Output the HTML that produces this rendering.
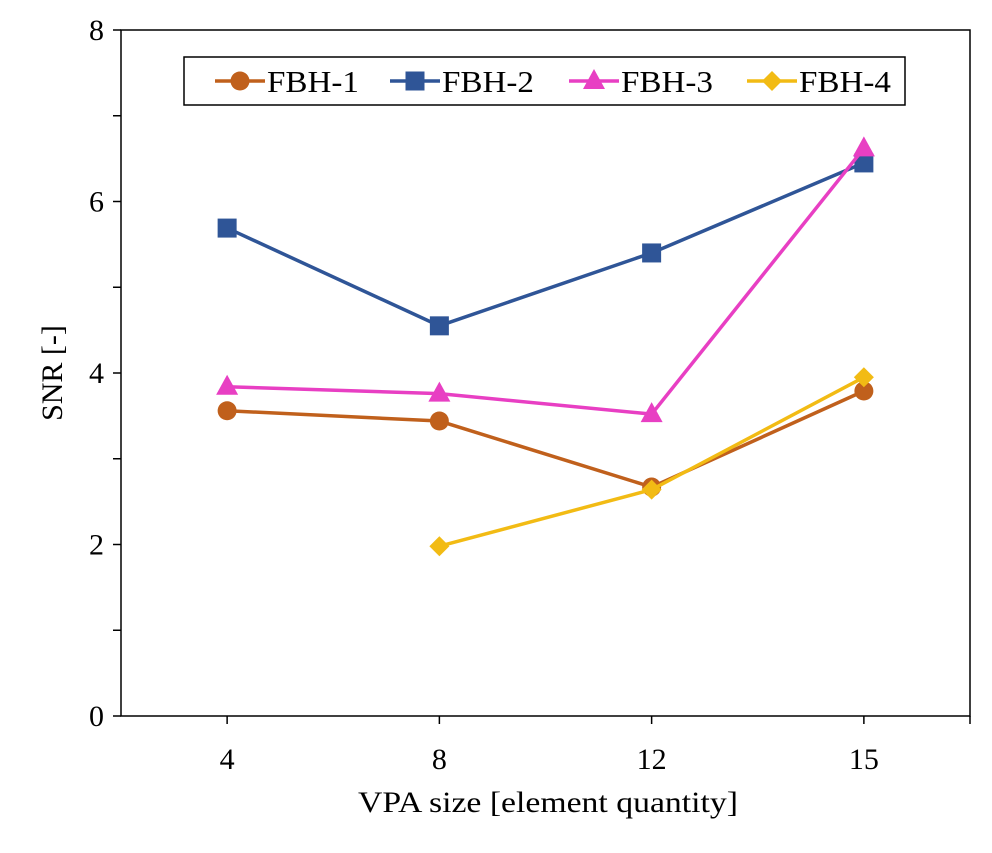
<!DOCTYPE html>
<html><head><meta charset="utf-8"><style>
body{margin:0;background:#fff}
svg text{font-family:"Liberation Serif",serif;fill:#000}
</style></head><body>
<svg id="chart" width="992" height="848">
<rect x="0" y="0" width="992" height="848" fill="#fff"/>
<g id="axes"></g><g id="series"></g><g id="legend"></g>
</svg>
<script>
const categories=["4","8","12","15"];
const fbh1=[3.56,3.44,2.67,3.79];
const fbh2=[5.69,4.55,5.40,6.45];
const fbh3=[3.84,3.76,3.52,6.62];
const fbh4=[null,1.98,2.64,3.95];
const yTicks=[0,1,2,3,4,5,6,7,8];
const yLabels=["0","","2","","4","","6","","8"];
const names=["FBH-1","FBH-2","FBH-3","FBH-4"];
const colors=["#c0601c","#2f5597","#e83fc3","#f2bb14"];
const shapes=["circle","square","triangle","diamond"];
const L=121,R=970,T=30,B=716,ymax=8;
const ns="http://www.w3.org/2000/svg";
function X(i){return L+(R-L)/categories.length*(i+0.5);}
function Y(v){return B-(B-T)*v/ymax;}
function mk(tag,attrs,parent){const e=document.createElementNS(ns,tag);for(const k in attrs)e.setAttribute(k,attrs[k]);parent.appendChild(e);return e;}
const ax=document.getElementById('axes');
const box=mk('rect',{x:L,y:T,width:R-L,height:B-T,fill:'none',stroke:'#000','stroke-width':1.5},ax);


yTicks.forEach((v,i)=>{
 const t=mk('line',{x1:L-8,x2:L,y1:Y(v),y2:Y(v),stroke:'#000','stroke-width':1.5},ax);
 
 
 if(yLabels[i]){const tx=mk('text',{x:L-17,y:Y(v)+10,'text-anchor':'end','font-size':30},ax);tx.textContent=yLabels[i];
 
 }
});
categories.forEach((c,i)=>{
 const t=mk('line',{x1:X(i),x2:X(i),y1:B,y2:B+8,stroke:'#000','stroke-width':1.5},ax);
 
 
 const tx=mk('text',{x:X(i),y:B+53,'text-anchor':'middle','font-size':30},ax);tx.textContent=c;
 
 
});
mk('line',{x1:R,x2:R,y1:B,y2:B+8,stroke:'#000','stroke-width':1.5},ax);
const xt=mk('text',{x:358,y:812,'font-size':30,textLength:380,lengthAdjust:'spacingAndGlyphs'},ax);xt.textContent="VPA size [element quantity]";


const yt=mk('text',{x:0,y:0,'text-anchor':'middle','font-size':30,transform:`translate(62,${(T+B)/2}) rotate(-90)`},ax);yt.textContent="SNR [-]";


function marker(shape,x,y,col,parent){
 let e;
 if(shape=="circle")e=mk('circle',{cx:x,cy:y,r:9.5,fill:col},parent);
 else if(shape=="square")e=mk('rect',{x:x-9.5,y:y-9.5,width:19,height:19,fill:col},parent);
 else if(shape=="triangle")e=mk('polygon',{points:`${x},${y-12} ${x+11},${y+8} ${x-11},${y+8}`,fill:col},parent);
 else e=mk('polygon',{points:`${x},${y-10} ${x+10},${y} ${x},${y+10} ${x-10},${y}`,fill:col},parent);
 return e;
}
const sg=document.getElementById('series');
[fbh1,fbh2,fbh3,fbh4].forEach((d,s)=>{
 const g=mk('g',{},sg);
 
 
 const pts=[];d.forEach((v,i)=>{if(v!=null)pts.push([X(i),Y(v)]);});
 const pl=mk('polyline',{points:pts.map(p=>p.join(',')).join(' '),fill:'none',stroke:colors[s],'stroke-width':3.5},g);
 
 
 pts.forEach(p=>{const m=marker(shapes[s],p[0],p[1],colors[s],g);
 
 });
});
const lg=document.getElementById('legend');
const lb=mk('rect',{x:184,y:57,width:721,height:48,fill:'#fff',stroke:'#000','stroke-width':1.5},lg);


const lx=[215,390,569,747];
names.forEach((n,s)=>{
 const g=mk('g',{},lg);
 
 
 mk('line',{x1:lx[s],x2:lx[s]+50,y1:81,y2:81,stroke:colors[s],'stroke-width':3.5},g);
 marker(shapes[s],lx[s]+25,81,colors[s],g);
 const t=mk('text',{x:lx[s]+52,y:92,'font-size':31,textLength:92,lengthAdjust:'spacingAndGlyphs'},g);t.textContent=n;
});
</script>
</body></html>
